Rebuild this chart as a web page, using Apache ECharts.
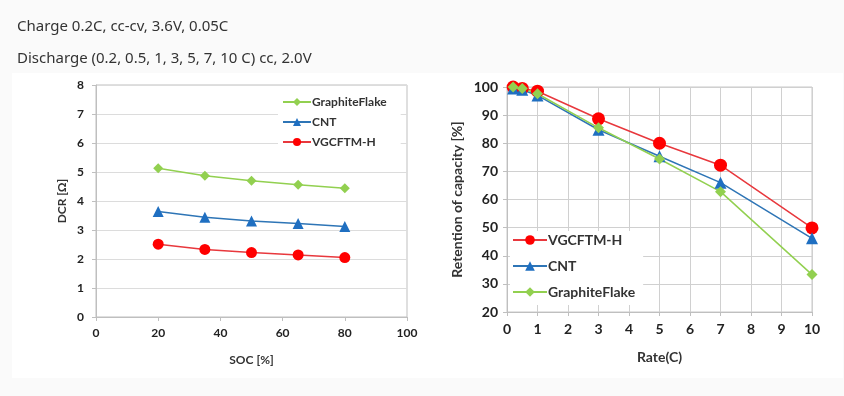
<!DOCTYPE html>
<html>
<head>
<meta charset="utf-8">
<script src="https://cdn.jsdelivr.net/npm/echarts@6/dist/echarts.min.js"></script>
<style>
  html, body { margin: 0; padding: 0; background: #fafafa; }
  #chart { width: 844px; height: 396px; }
</style>
</head>
<body>
<div id="chart"></div>
<script>
// DCR vs SOC
const socValues = [20, 35, 50, 65, 80];
const dcrGraphite = [5.13, 4.87, 4.70, 4.56, 4.44];
const dcrCNT = [3.64, 3.44, 3.31, 3.22, 3.12];
const dcrVGCF = [2.51, 2.33, 2.22, 2.14, 2.05];

// retention vs rate
const rateValues = [0.2, 0.5, 1, 3, 5, 7, 10];
const retVGCF = [100, 99.5, 98.5, 88.7, 80, 72.2, 49.9];
const retCNT = [99.5, 99, 97, 84.8, 75.4, 66, 46.2];
const retGraphite = [100, 99.5, 97.6, 85.5, 74.4, 62.8, 33.3];

const seriesNames = ["GraphiteFlake", "CNT", "VGCFTM-H"];
const headerLines = [
  "Charge 0.2C, cc-cv, 3.6V, 0.05C",
  "Discharge (0.2, 0.5, 1, 3, 5, 7, 10 C) cc, 2.0V",
];

const RED = "#ff0000";
const RED_LINE = "#e8383d";
const BLUE = "#1f6fc1";
const BLUE_LINE = "#2e75b6";
const GREEN = "#92d050";
const FONT = "Lato, 'Open Sans', sans-serif";

function pairs(xs, ys) {
  return xs.map((x, i) => [x, ys[i]]);
}

function lineSeries(name, xi, yi, data, color, lineColor, symbol, size) {
  return {
    name: name,
    type: "line",
    xAxisIndex: xi,
    yAxisIndex: yi,
    data: data,
    symbol: symbol,
    symbolSize: size,
    itemStyle: { color: color },
    lineStyle: { color: lineColor, width: 1.5 },
    emphasis: { disabled: true },
    animation: false,
  };
}

const myChart = echarts.init(document.getElementById("chart"));

const headerStyle = { fontFamily: "'Noto Sans', sans-serif", fontSize: 15, fontWeight: "normal", color: "#333" };

const option = {
  backgroundColor: "#fafafa",
  textStyle: { fontFamily: FONT },
  graphic: [
    {
      type: "rect",
      shape: { x: 12, y: 73, width: 831, height: 305 },
      style: { fill: "#ffffff" },
      z: -10,
      silent: true,
    },
  ],
  title: [
    { text: headerLines[0], left: 12, top: 14, textStyle: headerStyle },
    { text: headerLines[1], left: 12, top: 46, textStyle: headerStyle },
  ],
  legend: [
    {
      data: seriesNames,
      orient: "vertical",
      left: 278,
      top: 92,
      itemWidth: 28,
      itemHeight: 10,
      itemGap: 8,
      backgroundColor: "#ffffff",
      padding: [4, 14, 4, 4],
      textStyle: { fontFamily: FONT, fontSize: 12, fontWeight: "bold", color: "#333", padding: [0, 0, 0, -4] },
    },
    {
      data: ["VGCFTM-H", "CNT", "GraphiteFlake"],
      orient: "vertical",
      left: 510,
      top: 231,
      itemWidth: 34,
      itemHeight: 12,
      itemGap: 12,
      backgroundColor: "#ffffff",
      padding: [2, 8, 6, 2],
      textStyle: { fontFamily: FONT, fontSize: 14, fontWeight: "bold", color: "#333", padding: [0, 0, 0, -4] },
    },
  ],
  grid: [
    { left: 96, top: 85, width: 311, height: 232, show: true, borderColor: "#bfbfbf", borderWidth: 1 },
    { left: 507, top: 87, width: 305, height: 225, show: true, borderColor: "#c8c8c8", borderWidth: 1 },
  ],
  xAxis: [
    {
      gridIndex: 0,
      type: "value",
      min: 0,
      max: 100,
      interval: 20,
      name: "SOC [%]",
      nameLocation: "middle",
      nameGap: 37,
      nameTextStyle: { fontSize: 12, fontWeight: "bold", color: "#333" },
      axisLine: { lineStyle: { color: "#bfbfbf" } },
      axisTick: { show: true, length: 4, lineStyle: { color: "#bfbfbf" } },
      axisLabel: { fontSize: 12, fontWeight: "bold", color: "#222", margin: 10 },
      splitLine: { show: false },
    },
    {
      gridIndex: 1,
      type: "value",
      min: 0,
      max: 10,
      interval: 1,
      name: "Rate(C)",
      nameLocation: "middle",
      nameGap: 38,
      nameTextStyle: { fontSize: 14, fontWeight: "bold", color: "#333" },
      axisLine: { lineStyle: { color: "#bfbfbf" } },
      axisTick: { show: true, length: 4, lineStyle: { color: "#bfbfbf" } },
      axisLabel: { fontSize: 14, fontWeight: "bold", color: "#222", margin: 10 },
      splitLine: { show: true, lineStyle: { color: "#d0d0d0" } },
    },
  ],
  yAxis: [
    {
      gridIndex: 0,
      type: "value",
      min: 0,
      max: 8,
      interval: 1,
      name: "DCR [Ω]",
      nameLocation: "middle",
      nameGap: 28,
      nameTextStyle: { fontSize: 12, fontWeight: "bold", color: "#333" },
      axisLine: { show: true, lineStyle: { color: "#bfbfbf" } },
      axisTick: { show: true, length: 4, lineStyle: { color: "#bfbfbf" } },
      axisLabel: { fontSize: 12, fontWeight: "bold", color: "#222", margin: 12 },
      splitLine: { show: true, lineStyle: { color: "#dcdcdc" } },
    },
    {
      gridIndex: 1,
      type: "value",
      min: 20,
      max: 100,
      interval: 10,
      name: "Retention of capacity [%]",
      nameLocation: "middle",
      nameGap: 43,
      nameTextStyle: { fontSize: 14, fontWeight: "bold", color: "#333" },
      axisLine: { show: true, lineStyle: { color: "#bfbfbf" } },
      axisTick: { show: true, length: 4, lineStyle: { color: "#bfbfbf" } },
      axisLabel: { fontSize: 14, fontWeight: "bold", color: "#222", margin: 9 },
      splitLine: { show: true, lineStyle: { color: "#d0d0d0" } },
    },
  ],
  series: [
    lineSeries("VGCFTM-H", 0, 0, pairs(socValues, dcrVGCF), RED, RED_LINE, "circle", 11),
    lineSeries("CNT", 0, 0, pairs(socValues, dcrCNT), BLUE, BLUE_LINE, "triangle", 11),
    lineSeries("GraphiteFlake", 0, 0, pairs(socValues, dcrGraphite), GREEN, GREEN, "diamond", 10),
    lineSeries("VGCFTM-H", 1, 1, pairs(rateValues, retVGCF), RED, RED_LINE, "circle", 13),
    lineSeries("CNT", 1, 1, pairs(rateValues, retCNT), BLUE, BLUE_LINE, "triangle", 12),
    lineSeries("GraphiteFlake", 1, 1, pairs(rateValues, retGraphite), GREEN, GREEN, "diamond", 11),
  ],
};

myChart.setOption(option);
</script>
</body>
</html>
